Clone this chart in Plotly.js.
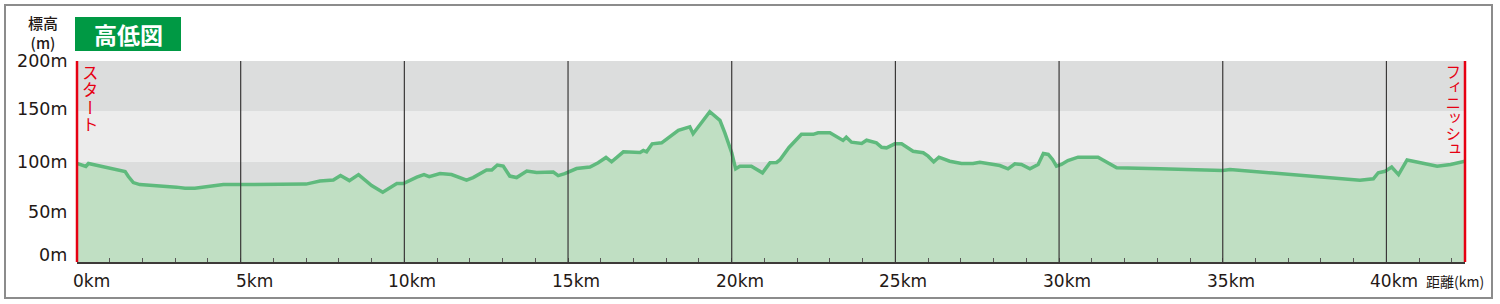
<!DOCTYPE html>
<html><head><meta charset="utf-8">
<script src="https://cdn.plot.ly/plotly-3.0.1.min.js"></script>
<style>
html,body{margin:0;padding:0;background:#fff;}
#wrap{position:relative;width:1500px;height:304px;}
#chart{width:1500px;height:304px;}
.vlabel{position:absolute;writing-mode:vertical-rl;text-orientation:upright;
  font-family:"Noto Sans CJK JP",sans-serif;color:#e60012;line-height:1;white-space:nowrap;}
</style>
</head><body><div id="wrap"><div id="chart"></div></div>
<script>
// ---- data ----
const distanceKm = [0.00,0.27,0.35,1.47,1.57,1.72,1.92,2.84,3.04,3.30,3.60,4.47,5.00,7.00,7.20,7.42,7.83,8.05,8.32,8.60,9.00,9.34,9.77,9.97,10.38,10.60,10.76,11.09,11.44,11.60,11.90,12.10,12.51,12.67,12.84,13.02,13.22,13.43,13.74,14.04,14.45,14.55,14.70,14.90,15.26,15.67,15.92,16.16,16.33,16.69,17.20,17.30,17.40,17.57,17.86,18.37,18.72,18.82,19.33,19.64,19.79,20.00,20.12,20.25,20.60,20.94,21.17,21.37,21.47,21.75,22.13,22.49,22.64,23.00,23.40,23.50,23.66,23.97,24.12,24.42,24.58,24.73,24.98,25.19,25.54,25.85,26.00,26.17,26.33,26.66,27.02,27.37,27.58,28.19,28.44,28.65,28.85,29.11,29.36,29.52,29.67,29.80,29.92,30.07,30.27,30.48,30.58,31.19,31.76,33.08,35.00,35.22,36.25,37.25,38.27,39.19,39.60,39.75,39.96,40.16,40.37,40.63,41.04,41.55,41.96,42.40];
const elevationM = [98,95,98,90,85,79,77,75.5,74.5,73.5,73.5,77,77,77.5,79,80.5,81.5,86,81,87,76,69.5,78,78,84.5,87,85,88,87,85,81.5,84,91.5,91.5,96.5,95.5,85.5,84,90.5,89,89,89.5,86,88,93,94.5,98.7,104,99.7,109.6,109,111,109.6,117.6,118.6,131,134.5,127.6,149.5,141,128.5,108.7,92.7,95.3,95.3,88.7,98.7,99,101.5,114,127,127,128.6,128.6,121,124.2,119.2,118,121.2,118.6,114.2,113.6,117.6,117.6,110.2,108.7,105.3,99.7,104.3,100.3,98,98,99.3,96,92.7,97.7,97,92.7,97,108,107,102,95.3,97,101,102.7,104.3,104.3,93.7,92.7,91,92,89.3,87,83.7,81.4,82.8,88.8,90.3,94.5,87,101.5,98.7,95.3,97,100.3];
const courseEndKm = 42.4;
const yTickValues = [0,50,100,150,200];
const yTickLabels = ['0m','50m','100m','150m','200m'];
const xLabelKm = [0,5,10,15,20,25,30,35,40];
const xLabelText = ['0km','5km','10km','15km','20km','25km','30km','35km','40km'];
const gridKm = [5,10,15,20,25,30,35,40];
const bandEdges = [0,100,150,200];
const startLabel = 'スタート';
const finishLabel = 'フィニッシュ';

// ---- layout helpers (pixel -> paper) ----
const L=77, R=35, T=61, B=42, W=1500, H=304;
const pw=W-L-R, ph=H-T-B;
const px = x => (x-L)/pw;
const py = y => (H-B-y)/ph;

const ink = '#231815';
const red = '#e60012';
const latin = 'DejaVu Sans, Liberation Sans, sans-serif';
const cjk = 'Noto Sans CJK JP, sans-serif';
const bandColors = ['#dcdddd','#ececec','#dcdddd'];

const shapes = [];
for (let i=0;i<bandEdges.length-1;i++){
  shapes.push({type:'rect',xref:'paper',yref:'y',x0:0,x1:1,y0:bandEdges[i],y1:bandEdges[i+1],
    fillcolor:bandColors[i],line:{width:0},layer:'below'});
}
gridKm.forEach(g=>shapes.push({type:'line',xref:'x',yref:'paper',x0:g,x1:g,y0:0,y1:1,
  line:{color:'#3a3838',width:1.2},layer:'above'}));
shapes.push({type:'line',xref:'paper',yref:'paper',x0:0,x1:0,y0:0,y1:1,line:{color:red,width:2.5},layer:'above'});
shapes.push({type:'line',xref:'paper',yref:'paper',x0:1,x1:1,y0:0,y1:1,line:{color:red,width:2.5},layer:'above'});
// title box
shapes.push({type:'rect',xref:'paper',yref:'paper',x0:px(75),x1:px(181),y0:py(51),y1:py(17),
  fillcolor:'#009944',line:{width:0},layer:'above'});
// outer frame
shapes.push({type:'rect',xref:'paper',yref:'paper',x0:px(5),x1:px(1492),y0:py(298),y1:py(5),
  fillcolor:'rgba(0,0,0,0)',line:{color:'#8c8c8c',width:2},layer:'above'});

const annotations = [];
yTickValues.forEach((v,i)=>annotations.push({xref:'paper',yref:'y',x:px(69),y:v,text:yTickLabels[i],
  showarrow:false,xanchor:'right',yanchor:'middle',yshift:v===0?7:(v===150?2:0),
  font:{family:latin,size:17.5,color:ink}}));
xLabelKm.forEach((k,i)=>annotations.push({xref:'x',yref:'paper',x:k,y:py(281),
  text:xLabelText[i],showarrow:false,xanchor:'center',yanchor:'middle',
  xshift: xLabelText[i].length===3?14:8,font:{family:latin,size:17,color:ink}}));
annotations.push({xref:'paper',yref:'paper',x:px(1455),y:py(281),text:'距離(km)',showarrow:false,
  xanchor:'center',yanchor:'middle',font:{family:cjk,size:14,color:ink}});
annotations.push({xref:'paper',yref:'paper',x:px(43),y:py(32),text:'標高<br>(m)',showarrow:false,
  xanchor:'center',yanchor:'middle',borderpad:0,font:{family:cjk,size:15,color:ink,weight:500}});
annotations.push({xref:'paper',yref:'paper',x:px(128),y:py(34),text:'<b>高低図</b>',showarrow:false,
  xanchor:'center',yanchor:'middle',font:{family:cjk,size:23,color:'#ffffff'}});

const trace = {x:distanceKm,y:elevationM,type:'scatter',mode:'lines',
  line:{color:'#5fba7d',width:3.5},fill:'tozeroy',fillcolor:'#c0dfc3',hoverinfo:'skip'};

const layout = {
  width:W,height:H,margin:{l:L,r:R,t:T,b:B,pad:0},
  paper_bgcolor:'#ffffff',plot_bgcolor:'#ffffff',showlegend:false,
  xaxis:{range:[0,courseEndKm],showgrid:false,zeroline:false,showline:true,linecolor:'#3e3a39',linewidth:1.5,
    ticks:'inside',ticklen:4,tickcolor:'#595757',tickwidth:1,tick0:0,dtick:1,showticklabels:false,fixedrange:true},
  yaxis:{range:[0,200],showgrid:false,zeroline:false,showline:false,showticklabels:false,ticks:'',fixedrange:true},
  shapes:shapes,annotations:annotations
};
Plotly.newPlot('chart',[trace],layout,{staticPlot:true,displayModeBar:false}).then(()=>{
  // vertical (tategaki) start / finish labels, placed at the course ends
  const wrap=document.getElementById('wrap');
  const fa=document.getElementById('chart')._fullLayout.xaxis;
  const mk=(txt,cx,top,size,spacing)=>{
    const d=document.createElement('div');d.className='vlabel';d.textContent=txt;
    d.style.fontSize=size+'px';d.style.letterSpacing=spacing+'px';
    d.style.left=(cx-size/2)+'px';d.style.top=top+'px';wrap.appendChild(d);
  };
  mk(startLabel, L+fa.l2p(0)+13, 64, 16.5, 1);
  mk(finishLabel, L+fa.l2p(courseEndKm)-12.5, 64, 15.5, 0);
});
</script></body></html>
